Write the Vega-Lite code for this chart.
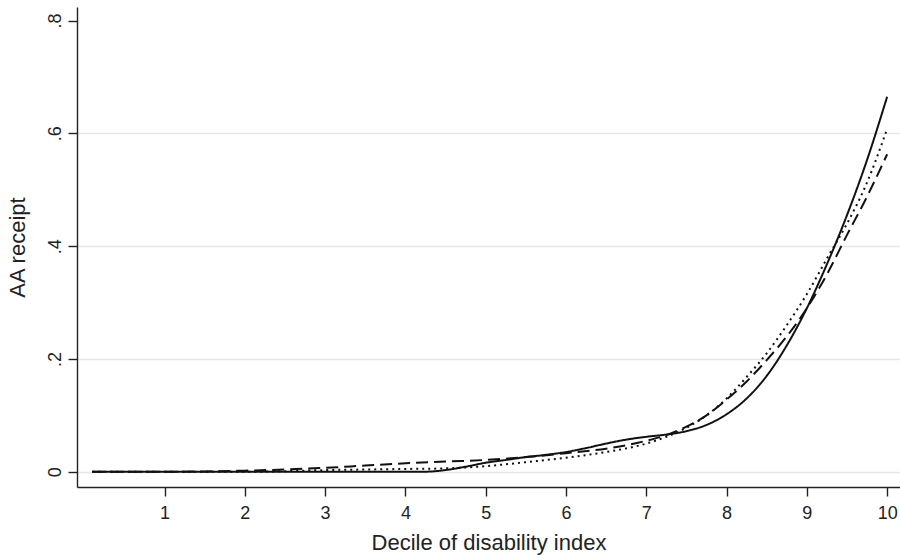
{
  "$schema": "https://vega.github.io/schema/vega-lite/v6.json",
  "width": 823,
  "height": 480,
  "autosize": {"type": "none"},
  "padding": {"left": 77, "top": 7, "right": 0, "bottom": 71},
  "background": "white",
  "config": {
    "view": {"stroke": null},
    "font": "Liberation Sans",
    "axis": {
      "domainColor": "#222222",
      "domainWidth": 1.4,
      "tickColor": "#222222",
      "tickWidth": 1.4,
      "tickSize": 9,
      "labelColor": "#222222",
      "titleColor": "#222222",
      "labelFont": "Liberation Sans",
      "titleFont": "Liberation Sans",
      "labelFontSize": 18,
      "titleFontSize": 22,
      "titleFontWeight": "normal",
      "gridColor": "#e6e6e6",
      "gridWidth": 1.5
    }
  },
  "data": {
    "values": [
      {"decile": 0.1, "receipt": 0, "series": "A"},
      {"decile": 1, "receipt": 0, "series": "A"},
      {"decile": 2, "receipt": 0, "series": "A"},
      {"decile": 3, "receipt": 0, "series": "A"},
      {"decile": 4, "receipt": 0, "series": "A"},
      {"decile": 4.2, "receipt": 0, "series": "A"},
      {"decile": 4.5, "receipt": 0.003, "series": "A"},
      {"decile": 4.75, "receipt": 0.009, "series": "A"},
      {"decile": 5, "receipt": 0.016, "series": "A"},
      {"decile": 5.25, "receipt": 0.021, "series": "A"},
      {"decile": 5.5, "receipt": 0.026, "series": "A"},
      {"decile": 5.75, "receipt": 0.03, "series": "A"},
      {"decile": 6, "receipt": 0.035, "series": "A"},
      {"decile": 6.25, "receipt": 0.042, "series": "A"},
      {"decile": 6.5, "receipt": 0.05, "series": "A"},
      {"decile": 6.75, "receipt": 0.057, "series": "A"},
      {"decile": 7, "receipt": 0.062, "series": "A"},
      {"decile": 7.25, "receipt": 0.066, "series": "A"},
      {"decile": 7.5, "receipt": 0.072, "series": "A"},
      {"decile": 7.75, "receipt": 0.083, "series": "A"},
      {"decile": 8, "receipt": 0.102, "series": "A"},
      {"decile": 8.25, "receipt": 0.13, "series": "A"},
      {"decile": 8.5, "receipt": 0.17, "series": "A"},
      {"decile": 8.75, "receipt": 0.224, "series": "A"},
      {"decile": 9, "receipt": 0.29, "series": "A"},
      {"decile": 9.25, "receipt": 0.368, "series": "A"},
      {"decile": 9.5, "receipt": 0.455, "series": "A"},
      {"decile": 9.75, "receipt": 0.553, "series": "A"},
      {"decile": 10, "receipt": 0.665, "series": "A"},

      {"decile": 0.1, "receipt": 0, "series": "B"},
      {"decile": 1, "receipt": 0, "series": "B"},
      {"decile": 1.5, "receipt": 0.0005, "series": "B"},
      {"decile": 2, "receipt": 0.002, "series": "B"},
      {"decile": 2.5, "receipt": 0.004, "series": "B"},
      {"decile": 3, "receipt": 0.007, "series": "B"},
      {"decile": 3.5, "receipt": 0.011, "series": "B"},
      {"decile": 4, "receipt": 0.015, "series": "B"},
      {"decile": 4.5, "receipt": 0.018, "series": "B"},
      {"decile": 5, "receipt": 0.021, "series": "B"},
      {"decile": 5.5, "receipt": 0.026, "series": "B"},
      {"decile": 6, "receipt": 0.033, "series": "B"},
      {"decile": 6.5, "receipt": 0.041, "series": "B"},
      {"decile": 6.75, "receipt": 0.047, "series": "B"},
      {"decile": 7, "receipt": 0.055, "series": "B"},
      {"decile": 7.25, "receipt": 0.065, "series": "B"},
      {"decile": 7.5, "receipt": 0.08, "series": "B"},
      {"decile": 7.75, "receipt": 0.1, "series": "B"},
      {"decile": 8, "receipt": 0.128, "series": "B"},
      {"decile": 8.25, "receipt": 0.16, "series": "B"},
      {"decile": 8.5, "receipt": 0.198, "series": "B"},
      {"decile": 8.75, "receipt": 0.24, "series": "B"},
      {"decile": 9, "receipt": 0.29, "series": "B"},
      {"decile": 9.25, "receipt": 0.35, "series": "B"},
      {"decile": 9.5, "receipt": 0.42, "series": "B"},
      {"decile": 9.75, "receipt": 0.488, "series": "B"},
      {"decile": 10, "receipt": 0.563, "series": "B"},

      {"decile": 0.1, "receipt": 0, "series": "C"},
      {"decile": 1, "receipt": 0, "series": "C"},
      {"decile": 2, "receipt": 0, "series": "C"},
      {"decile": 2.5, "receipt": 0.001, "series": "C"},
      {"decile": 3, "receipt": 0.003, "series": "C"},
      {"decile": 3.5, "receipt": 0.004, "series": "C"},
      {"decile": 4, "receipt": 0.005, "series": "C"},
      {"decile": 4.5, "receipt": 0.006, "series": "C"},
      {"decile": 5, "receipt": 0.01, "series": "C"},
      {"decile": 5.5, "receipt": 0.017, "series": "C"},
      {"decile": 6, "receipt": 0.025, "series": "C"},
      {"decile": 6.5, "receipt": 0.035, "series": "C"},
      {"decile": 7, "receipt": 0.05, "series": "C"},
      {"decile": 7.25, "receipt": 0.062, "series": "C"},
      {"decile": 7.5, "receipt": 0.078, "series": "C"},
      {"decile": 7.75, "receipt": 0.1, "series": "C"},
      {"decile": 8, "receipt": 0.13, "series": "C"},
      {"decile": 8.25, "receipt": 0.168, "series": "C"},
      {"decile": 8.5, "receipt": 0.21, "series": "C"},
      {"decile": 8.75, "receipt": 0.26, "series": "C"},
      {"decile": 9, "receipt": 0.315, "series": "C"},
      {"decile": 9.25, "receipt": 0.378, "series": "C"},
      {"decile": 9.5, "receipt": 0.44, "series": "C"},
      {"decile": 9.75, "receipt": 0.513, "series": "C"},
      {"decile": 10, "receipt": 0.608, "series": "C"}
    ]
  },
  "mark": {"type": "line", "color": "#111111", "strokeWidth": 2, "interpolate": "monotone"},
  "encoding": {
    "x": {
      "field": "decile",
      "type": "quantitative",
      "scale": {"domain": [-0.09, 10.16], "nice": false, "zero": false},
      "axis": {
        "title": "Decile of disability index",
        "values": [1, 2, 3, 4, 5, 6, 7, 8, 9, 10],
        "grid": false,
        "labelPadding": 8,
        "titlePadding": 10,
        "labelFlush": false
      }
    },
    "y": {
      "field": "receipt",
      "type": "quantitative",
      "scale": {"domain": [-0.027, 0.824], "nice": false, "zero": false},
      "axis": {
        "title": "AA receipt",
        "values": [0, 0.2, 0.4, 0.6, 0.8],
        "labelExpr": "datum.value === 0 ? '0' : replace(format(datum.value, '.1f'), '0.', '.')",
        "labelAngle": -90,
        "labelAlign": "center",
        "labelPadding": 4,
        "titlePadding": 17,
        "grid": true,
        "gridColor": {"condition": {"test": "datum.value > 0.7", "value": "transparent"}, "value": "#e6e6e6"},
        "labelFlush": false
      }
    },
    "strokeDash": {
      "field": "series",
      "type": "nominal",
      "scale": {"domain": ["A", "B", "C"], "range": [[1, 0], [12, 6], [2, 4]]},
      "legend": null
    }
  }
}
